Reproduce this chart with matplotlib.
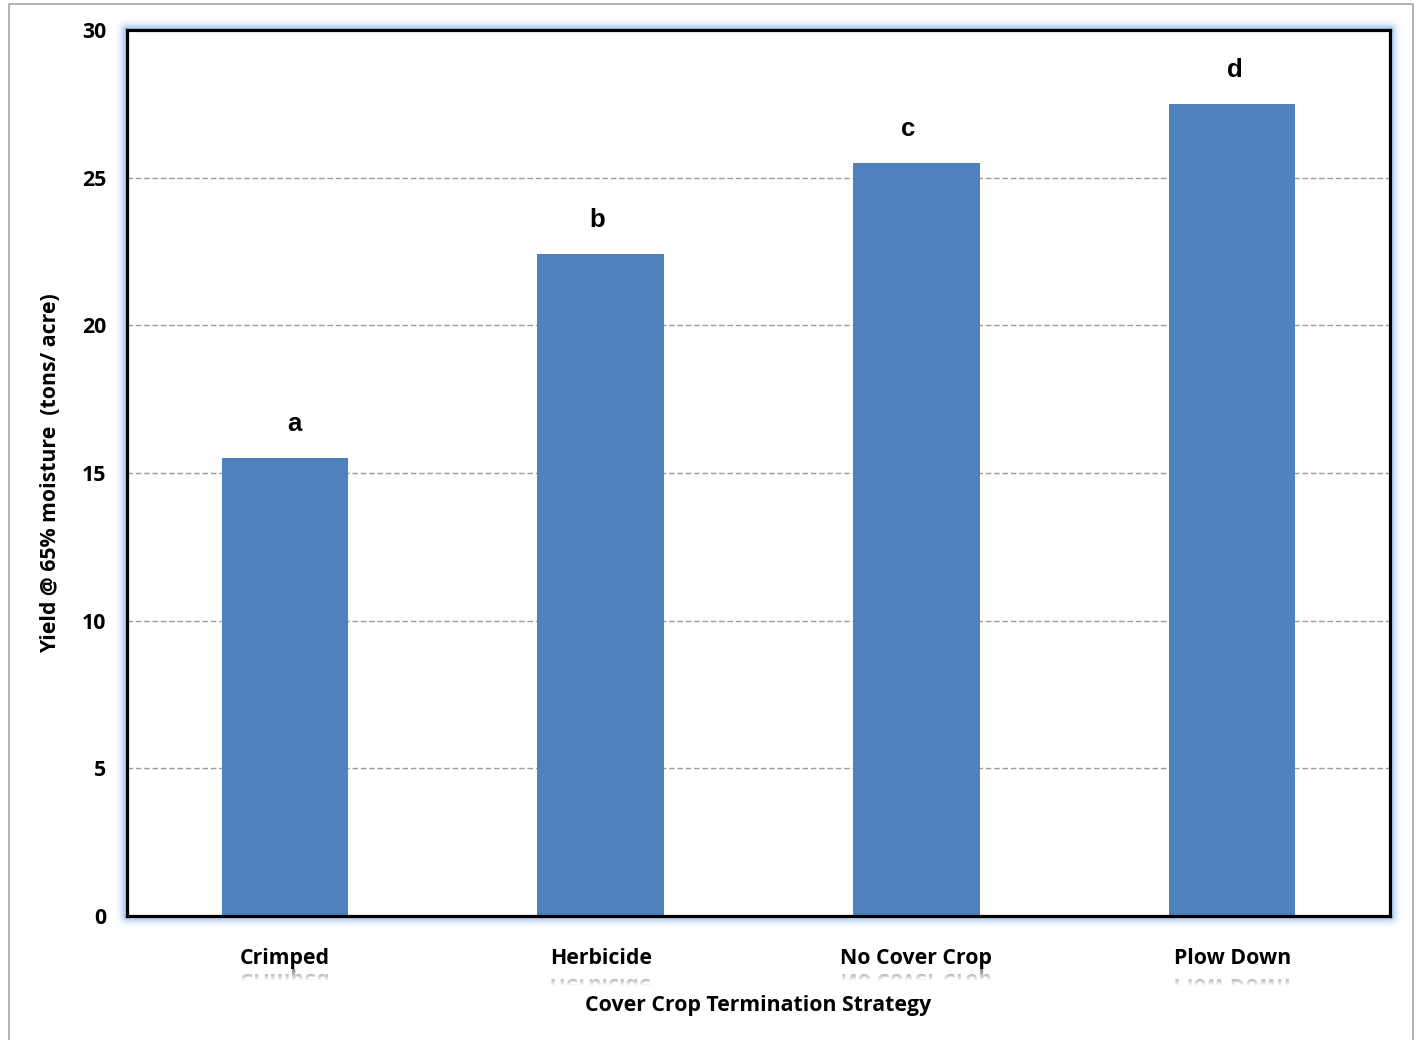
import numpy as np
import matplotlib
matplotlib.use("Agg")
import matplotlib.pyplot as plt
from matplotlib.textpath import TextPath
from matplotlib.patches import PathPatch
from matplotlib.transforms import Affine2D

# ---- data -------------------------------------------------------------
categories = ["Crimped", "Herbicide", "No Cover Crop", "Plow Down"]
yield_tons = [15.5, 22.4, 25.5, 27.5]
group_letters = ["a", "b", "c", "d"]
y_ticks = [0, 5, 10, 15, 20, 25, 30]

W, H, DPI = 1416, 1040, 100
BAR_COLOR = "#4f81bd"
LABEL_FONT = ["Open Sans", "DejaVu Sans"]
LABEL_SIZE = 15.3

fig = plt.figure(figsize=(W / DPI, H / DPI), dpi=DPI)
fig.patch.set_facecolor("white")

# background layer in pixel coordinates (glow, frame, reflections)
bg = fig.add_axes([0, 0, 1, 1], zorder=-1)
bg.set_xlim(0, W)
bg.set_ylim(0, H)
bg.axis("off")
bg.patch.set_alpha(0)

# plot area
x0, x1 = 127, 1390
y_top, y_bot = 30, 916
ax = fig.add_axes([x0 / W, (H - y_bot) / H, (x1 - x0) / W, (y_bot - y_top) / H])
ax.set_facecolor("white")

xpos = np.arange(len(categories))
ax.bar(xpos, yield_tons, width=0.4, color=BAR_COLOR, zorder=3)
ax.set_xlim(-0.5, len(categories) - 0.5)
ax.set_ylim(0, 30)
ax.set_yticks(y_ticks)
ax.set_yticklabels([str(t) for t in y_ticks], fontfamily=LABEL_FONT,
                   fontweight="bold", fontsize=LABEL_SIZE)
ax.set_xticks(xpos)
ax.set_xticklabels(categories, fontfamily=LABEL_FONT, fontweight="bold",
                   fontsize=LABEL_SIZE)
ax.tick_params(axis="y", length=0, pad=15)
ax.tick_params(axis="x", length=0, pad=23)
for v in y_ticks[1:-1]:
    ax.axhline(v, color="#9a9a9a", lw=1.0, ls=(0, (4, 2)), zorder=1)
for sp in ax.spines.values():
    sp.set_linewidth(2.3)
    sp.set_color("black")
    sp.set_zorder(5)

# small horizontal nudges (in pixels) for the significance letters
letter_nudge_px = [10, -3, -8, 3]
px_per_cat = (x1 - x0) / len(categories)
for xi, val, lab, nud in zip(xpos, yield_tons, group_letters, letter_nudge_px):
    ax.text(xi + nud / px_per_cat, val + 0.75, lab, ha="center", va="bottom",
            fontfamily="Liberation Sans", fontweight="bold", fontsize=18.5)

ax.set_xlabel("Cover Crop Termination Strategy", fontfamily=LABEL_FONT,
              fontweight="bold", fontsize=LABEL_SIZE, labelpad=19)
ax.set_ylabel("Yield @ 65% moisture  (tons/ acre)", fontfamily=LABEL_FONT,
              fontweight="bold", fontsize=LABEL_SIZE, labelpad=15)

# soft blue glow around the plot frame
gx = np.arange(W) + 0.5
gy = np.arange(H) + 0.5
X, Y = np.meshgrid(gx, gy)
py_top, py_bot = H - y_top, H - y_bot
dx = np.maximum(np.maximum(x0 - X, X - x1), 0)
dy = np.maximum(np.maximum(py_bot - Y, Y - py_top), 0)
dist = np.hypot(dx, dy)
alpha = np.exp(-(dist / 6.0) ** 2) * 0.85
inside = (X > x0) & (X < x1) & (Y > py_bot) & (Y < py_top)
alpha[inside] = 0
glow = np.zeros((H, W, 4))
glow[..., 0] = 150 / 255
glow[..., 1] = 190 / 255
glow[..., 2] = 240 / 255
glow[..., 3] = alpha
bg.imshow(glow, extent=(0, W, 0, H), origin="lower", aspect="auto",
          interpolation="nearest", zorder=1)

# outer page frame
bg.plot([9, 9, 1413, 1413], [0, H - 4, H - 4, 0], color="#a6a6a6", lw=1.2,
        zorder=2)

# mirrored, fading reflection beneath each category label
fig.canvas.draw()
renderer = fig.canvas.get_renderer()
fs_px = LABEL_SIZE * DPI / 72
grad = np.zeros((32, 1, 4))
grad[..., 3] = np.linspace(0.0, 0.5, 32)[:, None]
for lbl in ax.get_xticklabels():
    s = lbl.get_text()
    prop = lbl.get_fontproperties()
    bb = lbl.get_window_extent(renderer)
    _, _, d = renderer.get_text_width_height_descent(s, prop, ismath=False)
    baseline = bb.y0 + d
    mirror = baseline - 0.24 * fs_px
    tp = TextPath((0, 0), s, size=fs_px, prop=prop)
    tr = Affine2D().scale(1, -1).translate(bb.x0, 2 * mirror - baseline)
    path = tr.transform_path(tp)
    patch = PathPatch(path, transform=bg.transData, facecolor="none",
                      edgecolor="none")
    im = bg.imshow(grad, extent=(bb.x0 - 2, bb.x1 + 2, mirror - 12, mirror),
                   origin="lower", aspect="auto", interpolation="bilinear",
                   zorder=3)
    im.set_clip_path(patch)

fig.savefig("out.png", dpi=DPI)
